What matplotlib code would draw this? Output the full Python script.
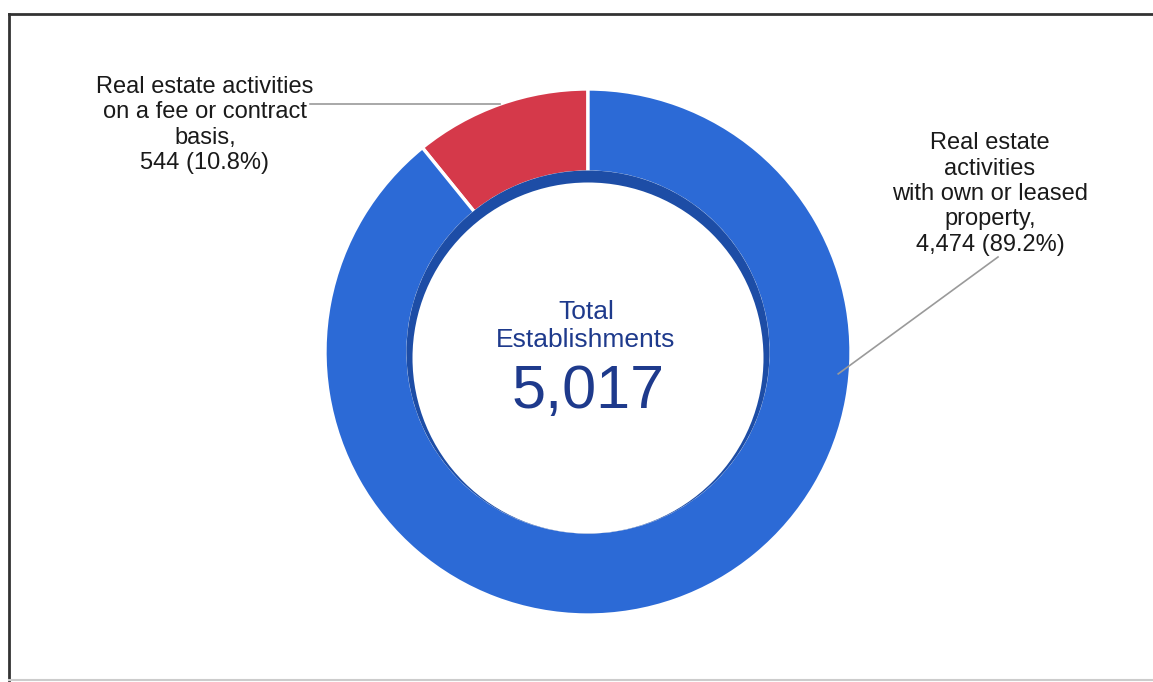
import numpy as np
import matplotlib
matplotlib.use("Agg")
import matplotlib.pyplot as plt
from matplotlib.patches import Circle
from matplotlib.lines import Line2D

plt.rcParams['font.family'] = ['Liberation Sans', 'DejaVu Sans']

# ---- data ----
categories = ["Real estate activities\non a fee or contract\nbasis",
              "Real estate\nactivities\nwith own or leased\nproperty"]
values = [544, 4474]
total_label = "Total\nEstablishments"
total_value = 5017
colors = ["#D5394A", "#2C6AD6"]

W, H = 1153, 682
fig = plt.figure(figsize=(W / 100, H / 100), dpi=100)
fig.patch.set_facecolor("white")
ax = fig.add_axes([0, 0, 1, 1])

cx, cy = 588, H - 352
R = 263
r_in = 180

wedges, _ = ax.pie(values, colors=colors, startangle=90, counterclock=True,
                   center=(cx, cy), radius=R, frame=True,
                   wedgeprops=dict(width=R - r_in, edgecolor="white", linewidth=2.4))
ax.set_xlim(0, W)
ax.set_ylim(0, H)
ax.set_aspect("equal")
ax.axis("off")

# inner shadow of the hole
ax.add_patch(Circle((cx, cy), r_in + 1.5, facecolor="#1D4DA6", edgecolor="none", zorder=3))
ax.add_patch(Circle((cx, cy - 6), r_in - 4.5, facecolor="white", edgecolor="none", zorder=4))

# center text
ax.text(cx - 2, H - 326, total_label, ha="center", va="center", fontsize=19,
        color="#1E3A8C", linespacing=1.2, zorder=5)
ax.text(cx, H - 393, f"{total_value:,}", ha="center", va="center", fontsize=44,
        color="#1E3A8C", zorder=5)

# labels
tot = sum(values)
labels = [f"{c},\n{v:,} ({v / tot * 100:.1f}%)" for c, v in zip(categories, values)]

# red label (left)
ax.text(205, H - 125, labels[0], ha="center", va="center", fontsize=17,
        color="#1a1a1a", linespacing=1.2, zorder=5)
# blue label (right)
ax.text(990, H - 194, labels[1], ha="center", va="center", fontsize=17,
        color="#1a1a1a", linespacing=1.2, zorder=5)

# leader lines
w0 = wedges[0]
mid0 = np.deg2rad((w0.theta1 + w0.theta2) / 2)
p0 = (cx + R * np.cos(mid0), cy + R * np.sin(mid0))
ax.plot([310, p0[0]], [p0[1], p0[1]], color="#9a9a9a", lw=1.2, zorder=6)

ang1 = np.deg2rad(-5)
p1 = (cx + 0.955 * R * np.cos(ang1), cy + 0.955 * R * np.sin(ang1))
ax.plot([p1[0], 998], [p1[1], H - 257], color="#9a9a9a", lw=1.2, zorder=6)

# outer frame (left, top, bottom visible)
fr = dict(color="#333333", lw=2, transform=fig.transFigure, zorder=10)
fig.add_artist(Line2D([9 / W, 9 / W], [1 - 14 / H, 1 - 680 / H], **fr))
fig.add_artist(Line2D([9 / W, 1.01], [1 - 14 / H, 1 - 14 / H], **fr))
fig.add_artist(Line2D([9 / W, 1.01], [1 - 680 / H, 1 - 680 / H], color="#cccccc", lw=1.5,
                      transform=fig.transFigure, zorder=10))

fig.savefig("out.png", dpi=100, facecolor="white")
